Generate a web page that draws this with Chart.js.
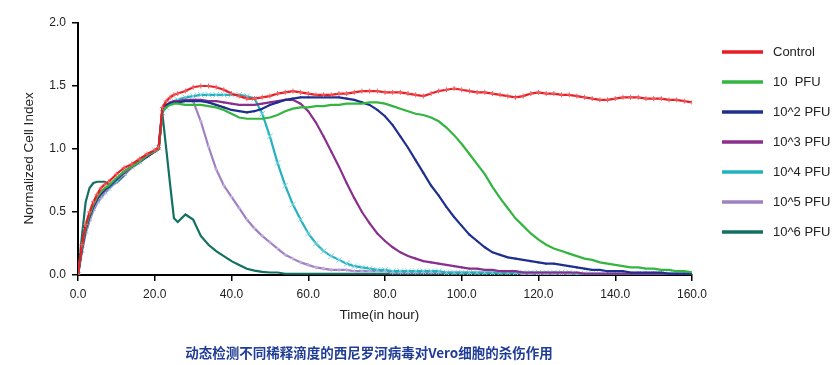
<!DOCTYPE html>
<html>
<head>
<meta charset="utf-8">
<script src="https://cdn.jsdelivr.net/npm/chart.js@4.4.0/dist/chart.umd.min.js"></script>
<style>
  html, body { margin: 0; padding: 0; background: #fff; }
  #wrap { position: relative; width: 839px; height: 365px; }
  #caption { position: absolute; left: 0; width: 738px; top: 342px; text-align: center;
             font: bold 13.5px "Noto Sans CJK SC", sans-serif; color: #1f3c96; }
</style>
</head>
<body>
<div id="wrap">
  <canvas id="chart" width="839" height="365"></canvas>
  <div id="caption">动态检测不同稀释滴度的西尼罗河病毒对Vero细胞的杀伤作用</div>
</div>
<script>
// time points (hours)
const hours = [0, 1, 2, 3, 4, 5, 6, 7, 8,
  10, 12, 14, 16, 18, 20,
  21, 22, 23, 24, 25,
  26, 28, 30, 32, 34, 36, 38, 40, 42, 44,
  46, 48, 50, 52, 54, 56, 58, 60, 62, 64,
  66, 68, 70, 72, 74, 76, 78, 80, 82, 84,
  86, 88, 90, 92, 94, 96, 98, 100, 102, 104,
  106, 108, 110, 112, 114, 116, 118, 120, 122, 124,
  126, 128, 130, 132, 134, 136, 138, 140, 142, 144,
  146, 148, 150, 152, 154, 156, 158, 160];

const seriesNames = ['Control', '10  PFU', '10^2 PFU', '10^3 PFU', '10^4 PFU', '10^5 PFU', '10^6 PFU'];

const control = [0, 0.24, 0.40, 0.50, 0.58, 0.64, 0.69, 0.72, 0.74,
  0.80, 0.85, 0.88, 0.92, 0.96, 0.99,
  1.01, 1.33, 1.38, 1.41, 1.43,
  1.44, 1.46, 1.49, 1.50, 1.50, 1.49, 1.47, 1.44, 1.42, 1.40,
  1.40, 1.41, 1.42, 1.44, 1.45, 1.46, 1.45, 1.44, 1.43, 1.43,
  1.43, 1.44, 1.44, 1.45, 1.46, 1.46, 1.46, 1.45, 1.45, 1.45,
  1.44, 1.43, 1.42, 1.44, 1.46, 1.47, 1.48, 1.47, 1.46, 1.45,
  1.45, 1.44, 1.43, 1.42, 1.41, 1.42, 1.44, 1.45, 1.44, 1.44,
  1.43, 1.43, 1.42, 1.41, 1.40, 1.39, 1.39, 1.40, 1.41, 1.41,
  1.41, 1.40, 1.40, 1.40, 1.39, 1.39, 1.38, 1.37];

const pfu10 = [0, 0.22, 0.38, 0.48, 0.56, 0.62, 0.66, 0.69, 0.71,
  0.77, 0.82, 0.86, 0.90, 0.95, 0.98,
  1.00, 1.30, 1.33, 1.35, 1.36,
  1.36, 1.35, 1.35, 1.35, 1.34, 1.33, 1.31, 1.28, 1.25, 1.24,
  1.24, 1.24, 1.25, 1.27, 1.30, 1.32, 1.33, 1.33, 1.34, 1.34,
  1.35, 1.35, 1.36, 1.36, 1.36, 1.37, 1.37, 1.36, 1.34, 1.32,
  1.30, 1.28, 1.27, 1.25, 1.22, 1.17, 1.11, 1.04, 0.96, 0.88,
  0.80, 0.70, 0.61, 0.53, 0.45, 0.39, 0.33, 0.28, 0.24, 0.21,
  0.19, 0.17, 0.15, 0.13, 0.12, 0.10, 0.09, 0.08, 0.07, 0.06,
  0.06, 0.05, 0.05, 0.04, 0.04, 0.03, 0.03, 0.02];

const pfu1e2 = [0, 0.21, 0.37, 0.47, 0.55, 0.61, 0.65, 0.68, 0.70,
  0.76, 0.82, 0.86, 0.90, 0.94, 0.98,
  1.00, 1.32, 1.35, 1.36, 1.37,
  1.37, 1.38, 1.38, 1.38, 1.37, 1.35, 1.33, 1.31, 1.30, 1.29,
  1.30, 1.32, 1.35, 1.37, 1.39, 1.40, 1.41, 1.41, 1.41, 1.41,
  1.41, 1.41, 1.40, 1.39, 1.37, 1.35, 1.31, 1.26, 1.19, 1.10,
  1.01, 0.91, 0.81, 0.71, 0.63, 0.54, 0.46, 0.39, 0.32, 0.27,
  0.22, 0.18, 0.16, 0.14, 0.13, 0.12, 0.11, 0.10, 0.09, 0.09,
  0.08, 0.07, 0.06, 0.05, 0.04, 0.04, 0.03, 0.03, 0.03, 0.02,
  0.02, 0.02, 0.02, 0.02, 0.01, 0.01, 0.01, 0.01];

const pfu1e3 = [0, 0.20, 0.36, 0.46, 0.54, 0.60, 0.64, 0.67, 0.70,
  0.76, 0.81, 0.86, 0.90, 0.94, 0.98,
  1.00, 1.31, 1.35, 1.37, 1.38,
  1.38, 1.39, 1.39, 1.39, 1.38, 1.38, 1.37, 1.36, 1.35, 1.35,
  1.35, 1.36, 1.37, 1.38, 1.39, 1.39, 1.36, 1.30, 1.21, 1.10,
  0.98, 0.86, 0.73, 0.61, 0.50, 0.41, 0.33, 0.27, 0.22, 0.18,
  0.15, 0.13, 0.11, 0.10, 0.09, 0.08, 0.07, 0.06, 0.05, 0.05,
  0.04, 0.04, 0.03, 0.03, 0.03, 0.02, 0.02, 0.02, 0.02, 0.02,
  0.02, 0.02, 0.02, 0.01, 0.01, 0.01, 0.01, 0.01, 0.01, 0.01,
  0.01, 0.01, 0.01, 0.01, 0.01, 0.01, 0.01, 0.01];

const pfu1e4 = [0, 0.20, 0.35, 0.45, 0.53, 0.59, 0.63, 0.66, 0.69,
  0.75, 0.81, 0.86, 0.90, 0.95, 0.99,
  1.01, 1.29, 1.33, 1.36, 1.38,
  1.39, 1.41, 1.42, 1.43, 1.43, 1.43, 1.43, 1.43, 1.43, 1.42,
  1.40, 1.28, 1.10, 0.89, 0.71, 0.56, 0.44, 0.33, 0.25, 0.19,
  0.15, 0.12, 0.09, 0.07, 0.06, 0.05, 0.04, 0.04, 0.03, 0.03,
  0.03, 0.03, 0.03, 0.03, 0.03, 0.02, 0.02, 0.02, 0.02, 0.02,
  0.02, 0.02, 0.02, 0.02, 0.02, 0.02, 0.02, 0.02, 0.02, 0.02,
  0.02, 0.02, 0.01, 0.01, 0.01, 0.01, 0.01, 0.01, 0.01, 0.01,
  0.01, 0.01, 0.01, 0.01, 0.01, 0.01, 0.01, 0.01];

const pfu1e5 = [0, 0.18, 0.33, 0.43, 0.51, 0.57, 0.61, 0.65, 0.68,
  0.74, 0.80, 0.85, 0.89, 0.94, 0.98,
  1.00, 1.30, 1.34, 1.36, 1.37,
  1.38, 1.39, 1.38, 1.22, 1.02, 0.84, 0.71, 0.62, 0.53, 0.44,
  0.37, 0.31, 0.26, 0.21, 0.16, 0.13, 0.10, 0.08, 0.06, 0.05,
  0.04, 0.04, 0.04, 0.03, 0.03, 0.03, 0.03, 0.03, 0.02, 0.02,
  0.02, 0.02, 0.02, 0.02, 0.02, 0.02, 0.02, 0.02, 0.02, 0.02,
  0.02, 0.02, 0.02, 0.02, 0.02, 0.01, 0.01, 0.01, 0.01, 0.01,
  0.01, 0.01, 0.01, 0.01, 0.01, 0.01, 0.01, 0.01, 0.01, 0.01,
  0.01, 0.01, 0.01, 0.01, 0.01, 0.01, 0.01, 0.01];

const pfu1e6 = [0, 0.30, 0.58, 0.69, 0.73, 0.74, 0.74, 0.74, 0.72,
  0.73, 0.79, 0.86, 0.91, 0.95, 0.99,
  1.00, 1.28, 1.00, 0.72, 0.45,
  0.42, 0.48, 0.44, 0.31, 0.24, 0.19, 0.15, 0.11, 0.08, 0.05,
  0.035, 0.025, 0.02, 0.02, 0.01, 0.01, 0.01, 0.01, 0.01, 0.01,
  0.01, 0.01, 0.01, 0.01, 0.01, 0.01, 0.01, 0.01, 0.01, 0.01,
  0.01, 0.01, 0.01, 0.01, 0.01, 0.01, 0.01, 0.01, 0.01, 0.01,
  0.01, 0.01, 0.01, 0.01, 0.01, 0.01, 0.01, 0.01, 0.01, 0.01,
  0.01, 0.01, 0.01, 0.01, 0.01, 0.01, 0.01, 0.01, 0.01, 0.01,
  0.01, 0.01, 0.01, 0.01, 0.01, 0.01, 0.01, 0.01];

const xTicks = [0, 20, 40, 60, 80, 100, 120, 140, 160];
const yTicks = [0, 0.5, 1.0, 1.5, 2.0];

function series(label, values, color, extra) {
  return Object.assign({
    label: label,
    data: values.map((v, i) => ({ x: hours[i], y: v })),
    borderColor: color,
    backgroundColor: color,
    borderWidth: 2.2,
    pointRadius: 0,
    tension: 0
  }, extra);
}

// legend drawn beside the plot, like the original
const sideLegend = {
  id: 'sideLegend',
  afterDraw(chart) {
    const ctx = chart.ctx;
    ctx.save();
    ctx.font = '13px "Liberation Sans", Arial, sans-serif';
    ctx.textBaseline = 'middle';
    chart.data.datasets.forEach((ds, i) => {
      const y = 52 + i * 30;
      ctx.strokeStyle = ds.borderColor;
      ctx.lineWidth = 3.5;
      ctx.beginPath();
      ctx.moveTo(722, y);
      ctx.lineTo(763, y);
      ctx.stroke();
      ctx.fillStyle = '#222';
      ctx.fillText(ds.label, 773, y);
    });
    ctx.restore();
  }
};

Chart.defaults.font.family = '"Liberation Sans", Arial, sans-serif';
Chart.defaults.font.size = 12;
Chart.defaults.color = '#222';

new Chart(document.getElementById('chart').getContext('2d'), {
  type: 'line',
  data: {
    datasets: [
      series(seriesNames[0], control, '#e81c24', { pointStyle: 'cross', pointRadius: 2.5, pointBorderColor: '#f06060', pointBorderWidth: 1 }),
      series(seriesNames[1], pfu10, '#33b540'),
      series(seriesNames[2], pfu1e2, '#1f2f8f', { pointRadius: 1, pointBorderWidth: 0 }),
      series(seriesNames[3], pfu1e3, '#8b2f8f', { pointRadius: 1, pointBorderWidth: 0 }),
      series(seriesNames[4], pfu1e4, '#23b3c0', { pointStyle: 'crossRot', pointRadius: 4, pointBorderColor: '#86d3dc', pointBorderWidth: 1 }),
      series(seriesNames[5], pfu1e5, '#9f80c0', { pointStyle: 'cross', pointRadius: 2, pointBorderColor: '#c8b2e2', pointBorderWidth: 1 }),
      series(seriesNames[6], pfu1e6, '#127063')
    ]
  },
  options: {
    responsive: false,
    animation: false,
    layout: { padding: { left: 0, right: 147, top: 23, bottom: 0 } },
    plugins: { legend: { display: false }, tooltip: { enabled: false } },
    scales: {
      x: {
        type: 'linear', min: 0, max: 160,
        afterBuildTicks: s => { s.ticks = xTicks.map(v => ({ value: v })); },
        ticks: { callback: v => v.toFixed(1), padding: 6, maxRotation: 0 },
        grid: { drawOnChartArea: false, drawTicks: true, tickLength: 6, color: '#000', lineWidth: 1.5 },
        border: { display: true, color: '#000', width: 2 },
        title: { display: true, text: 'Time(in hour)   ', font: { size: 13.5 }, padding: { top: 0, bottom: 42 } },
        afterFit: s => { s.height = 90; }
      },
      y: {
        min: 0, max: 2,
        afterBuildTicks: s => { s.ticks = yTicks.map(v => ({ value: v })); },
        ticks: { callback: v => v.toFixed(1), padding: 6 },
        grid: { drawOnChartArea: false, drawTicks: true, tickLength: 6, color: '#000', lineWidth: 1.5 },
        border: { display: true, color: '#000', width: 2 },
        title: { display: true, text: 'Normalized Cell Index     ', font: { size: 13.5 }, padding: { top: 21, bottom: 0 } },
        afterFit: s => { s.width = 78; }
      }
    }
  },
  plugins: [sideLegend]
});
</script>
</body>
</html>
